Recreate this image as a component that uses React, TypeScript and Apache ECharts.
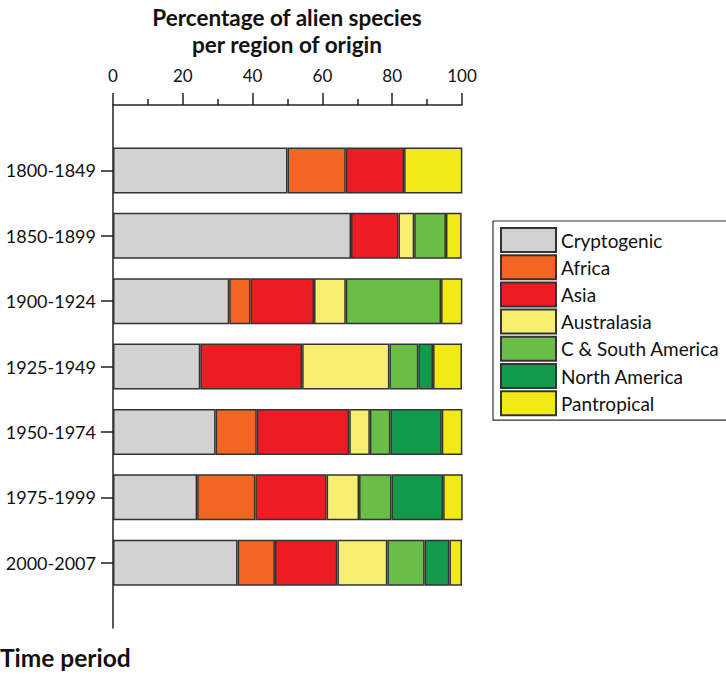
import React, { useEffect, useRef } from "react";
import * as echarts from "echarts";

const periods = ["1800-1849", "1850-1899", "1900-1924", "1925-1949", "1950-1974", "1975-1999", "2000-2007"];
const regions = ["Cryptogenic", "Africa", "Asia", "Australasia", "C & South America", "North America", "Pantropical"];
const colors = ["#d2d2d2", "#f26522", "#ed1c24", "#f7ef6f", "#6abd45", "#12994a", "#f2ea18"];

// percentage per region, one value per period
const cryptogenic = [50.0, 68.2, 33.3, 25.0, 29.4, 24.1, 35.7];
const africa = [16.7, 0, 6.1, 0, 11.8, 16.7, 10.7];
const asia = [16.7, 13.6, 18.2, 29.2, 26.5, 20.4, 17.9];
const australasia = [0, 4.5, 9.1, 25.0, 5.9, 9.3, 14.3];
const cSouthAmerica = [0, 9.1, 27.3, 8.3, 5.9, 9.3, 10.7];
const northAmerica = [0, 0, 0, 4.2, 14.7, 14.8, 7.1];
const pantropical = [16.7, 4.5, 6.1, 8.3, 5.9, 5.6, 3.6];

const seriesValues = [cryptogenic, africa, asia, australasia, cSouthAmerica, northAmerica, pantropical];
const xTicks = { min: 0, max: 100, interval: 20 };

const FONT = "Lato, 'DejaVu Sans', sans-serif";

export default function App() {
  const ref = useRef<HTMLDivElement>(null);
  useEffect(() => {
    document.body.style.margin = "0";
    const chart = echarts.init(ref.current!, undefined, { renderer: "svg" });
    const yCats = [" ", ...periods, "  "];
    const inside = (idx: number) => idx > 0 && idx < yCats.length - 1;
    chart.setOption({
      animation: false,
      textStyle: { fontFamily: FONT },
      grid: { left: 113, right: 264, top: 105, bottom: 48, containLabel: false },
      graphic: [
        {
          type: "text",
          x: 287,
          y: 4,
          style: {
            text: "Percentage of alien species\nper region of origin",
            fontFamily: FONT,
            fontWeight: "bold",
            fontSize: 22.5,
            lineHeight: 27,
            fill: "#111",
            textAlign: "center",
          },
        },
        {
          type: "text",
          x: 0,
          y: 645,
          style: {
            text: "Time period",
            fontFamily: FONT,
            fontWeight: "bold",
            fontSize: 24.5,
            fill: "#111",
          },
        },
      ],
      legend: {
        orient: "vertical",
        left: 493,
        top: 221,
        padding: [6, 40, 4, 7],
        itemWidth: 55,
        itemHeight: 24,
        itemGap: 1.2,
        borderColor: "#333",
        borderWidth: 1.2,
        icon: "rect",
        data: regions,
        textStyle: { fontFamily: FONT, fontSize: 19, color: "#111" },
      },
      xAxis: {
        type: "value",
        position: "top",
        min: xTicks.min,
        max: xTicks.max,
        interval: xTicks.interval,
        splitLine: { show: false },
        axisLine: { show: true, lineStyle: { color: "#222", width: 1.5 } },
        axisTick: { show: true, length: 12, lineStyle: { color: "#222", width: 1.5 } },
        minorTick: { show: true, splitNumber: 2, length: 6, lineStyle: { color: "#222", width: 1.5 } },
        axisLabel: { fontFamily: FONT, fontSize: 17, color: "#111", margin: 21 },
      },
      yAxis: {
        type: "category",
        inverse: true,
        boundaryGap: false,
        data: yCats,
        axisLine: { show: true, lineStyle: { color: "#222", width: 1.5 } },
        axisTick: { show: true, length: 12, interval: (i: number) => inside(i), lineStyle: { color: "#222", width: 1.5 } },
        axisLabel: {
          interval: (i: number) => inside(i),
          fontFamily: FONT,
          fontSize: 18,
          color: "#111",
          margin: 17,
        },
        splitLine: { show: false },
      },
      series: regions.map((name, s) => ({
        name,
        type: "bar",
        stack: "total",
        barWidth: 46,
        itemStyle: { color: colors[s], borderColor: "#333", borderWidth: 1.5 },
        data: [null, ...seriesValues[s].map((v) => (v > 0 ? v : null)), null],
      })),
    });
    return () => chart.dispose();
  }, []);
  return <div ref={ref} style={{ width: 726, height: 676 }} />;
}
